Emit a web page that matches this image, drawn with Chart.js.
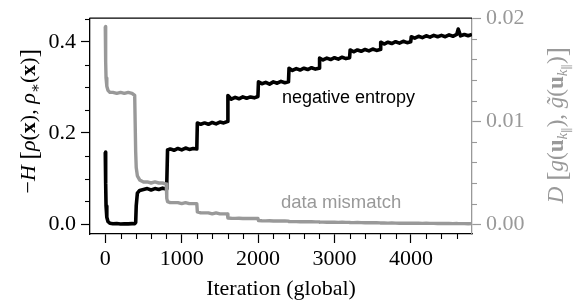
<!DOCTYPE html>
<html>
<head>
<meta charset="utf-8">
<script src="https://cdn.jsdelivr.net/npm/chart.js@4.4.1/dist/chart.umd.min.js"></script>
<style>
  html, body { margin: 0; padding: 0; background: #fff; }
  #wrap { width: 577px; height: 302px; }
</style>
</head>
<body>
<div id="wrap"><canvas id="c" width="577" height="302"></canvas></div>
<script>
// ---- data ----
const iterations = [
  0, 5, 10, 20, 35, 60, 100, 150, 200, 250, 300, 350, 385, 398,
  405, 420, 450, 500, 550, 600, 650, 700, 750, 798,
  805, 815, 850, 900, 950, 1000, 1050, 1100, 1150, 1198,
  1205, 1250, 1300, 1350, 1400, 1450, 1500, 1550, 1598,
  1605, 1650, 1700, 1750, 1800, 1850, 1900, 1950, 1998,
  2005, 2050, 2100, 2150, 2200, 2250, 2300, 2350, 2398,
  2405, 2450, 2500, 2550, 2600, 2650, 2700, 2750, 2798,
  2805, 2850, 2900, 2950, 3000, 3050, 3100, 3150, 3198,
  3205, 3250, 3300, 3350, 3400, 3450, 3500, 3550, 3598,
  3605, 3650, 3700, 3750, 3800, 3850, 3900, 3950, 3998,
  4005, 4050, 4100, 4150, 4200, 4250, 4300, 4350, 4400, 4450, 4500, 4550, 4600, 4620, 4650, 4700, 4750, 4800
];
const negativeEntropy = [
  0.158, 0.09, 0.04, 0.015, 0.006, 0.002, 0.001, 0.0015, 0.0005, 0.001, 0.0008, 0.0012, 0.001, 0.004,
  0.04, 0.068, 0.074, 0.076, 0.078, 0.075, 0.078, 0.076, 0.079, 0.077,
  0.09, 0.163, 0.165, 0.162, 0.166, 0.163, 0.167, 0.164, 0.166, 0.165,
  0.222, 0.219, 0.222, 0.219, 0.223, 0.220, 0.224, 0.222, 0.225,
  0.282, 0.274, 0.278, 0.275, 0.279, 0.276, 0.279, 0.277, 0.280,
  0.312, 0.308, 0.311, 0.307, 0.312, 0.309, 0.313, 0.310, 0.312,
  0.342, 0.337, 0.341, 0.338, 0.342, 0.339, 0.343, 0.340, 0.342,
  0.364, 0.360, 0.364, 0.361, 0.365, 0.362, 0.366, 0.363, 0.365,
  0.382, 0.378, 0.382, 0.379, 0.383, 0.380, 0.384, 0.381, 0.383,
  0.399, 0.395, 0.399, 0.396, 0.400, 0.397, 0.401, 0.398, 0.400,
  0.411, 0.408, 0.412, 0.409, 0.413, 0.410, 0.414, 0.411, 0.414, 0.411, 0.415, 0.412, 0.416, 0.428, 0.413, 0.416, 0.413, 0.416
];
const dataMismatch = [
  0.0192, 0.0158, 0.0142, 0.0134, 0.0130, 0.0128, 0.0128, 0.0127, 0.0128, 0.0127, 0.0128, 0.0127, 0.0125, 0.0070,
  0.0055, 0.0047, 0.0043, 0.0041, 0.0041, 0.0040, 0.0041, 0.0040, 0.0040, 0.0039,
  0.0025, 0.0022, 0.0021, 0.0021, 0.0021, 0.0020, 0.0021, 0.0020, 0.0020, 0.0020,
  0.0012, 0.0011, 0.0011, 0.0011, 0.0010, 0.0011, 0.0010, 0.0010, 0.0010,
  0.00060, 0.00058, 0.00057, 0.00058, 0.00056, 0.00057, 0.00056, 0.00056, 0.00055,
  0.00035, 0.00033, 0.00032, 0.00033, 0.00031, 0.00032, 0.00031, 0.00031, 0.00030,
  0.00026, 0.00025, 0.00025, 0.00024, 0.00025, 0.00024, 0.00024, 0.00023, 0.00023,
  0.00020, 0.00020, 0.00019, 0.00020, 0.00019, 0.00018, 0.00019, 0.00018, 0.00018,
  0.00016, 0.00015, 0.00016, 0.00015, 0.00014, 0.00015, 0.00014, 0.00014, 0.00013,
  0.00012, 0.00012, 0.00011, 0.00012, 0.00011, 0.00010, 0.00011, 0.00010, 0.00010,
  0.00009, 0.00010, 0.00009, 0.00008, 0.00009, 0.00008, 0.00008, 0.00007, 0.00008, 0.00007, 0.00007, 0.00006, 0.00007, 0.00006, 0.00006, 0.00006, 0.00005, 0.00006
];
const xTicks = [0, 1000, 2000, 3000, 4000];
const leftTicks = [0, 0.2, 0.4];
const rightTicks = [0, 0.01, 0.02];
const xMinorStep = 200, leftMinorStep = 0.05, rightMinorStep = 0.002;

// ---- styles ----
const GREY = '#999999';
const SERIF = "'Liberation Serif', 'DejaVu Serif', serif";
const SANS = "'Liberation Sans', Arial, sans-serif";

const blackPts = iterations.map((x, i) => ({ x, y: negativeEntropy[i] }));
const greyPts = iterations.map((x, i) => ({ x, y: dataMismatch[i] }));

function rich(ctx, parts, cx, cy, base, color) {
  ctx.save();
  ctx.translate(cx, cy);
  ctx.rotate(-Math.PI / 2);
  ctx.fillStyle = color;
  ctx.textBaseline = 'alphabetic';
  ctx.textAlign = 'left';
  let W = 0;
  const ws = parts.map(p => { ctx.font = p.f; const w = ctx.measureText(p.t).width; W += w; return w; });
  let x = -W / 2;
  parts.forEach((p, i) => { ctx.font = p.f; ctx.fillText(p.t, x, base + (p.dy || 0)); x += ws[i]; });
  ctx.restore();
}

const N = "22px " + SERIF, I = "italic 22px " + SERIF, B = "bold 22px " + SERIF;
const BR = "26px " + SERIF, SUB = "italic 15px " + SERIF, SUB2 = "12px " + SERIF;
const RN = "23px " + SERIF, RI = "italic 23px " + SERIF, RB = "bold 23px " + SERIF, RBR = "28px " + SERIF;

const decor = {
  id: 'decor',
  afterDraw(chart) {
    const ctx = chart.ctx, a = chart.chartArea;
    const sx = chart.scales.x, sl = chart.scales.y, sr = chart.scales.y1;
    ctx.save();
    // top spine
    ctx.strokeStyle = '#000'; ctx.lineWidth = 1.3;
    ctx.beginPath(); ctx.moveTo(a.left - 0.6, a.top); ctx.lineTo(a.right, a.top); ctx.stroke();
    // minor ticks
    ctx.lineWidth = 1.1;
    ctx.strokeStyle = '#000';
    for (let v = sx.min; v <= sx.max + 1e-9; v += xMinorStep) {
      if (xTicks.some(t => Math.abs(t - v) < 1e-6)) continue;
      const px = Math.round(sx.getPixelForValue(v)) + 0.5;
      if (px <= a.left + 1 || px >= a.right - 1) continue;
      ctx.beginPath(); ctx.moveTo(px, a.bottom); ctx.lineTo(px, a.bottom + 5); ctx.stroke();
    }
    for (let k = 1; k * leftMinorStep < sl.max; k++) {
      const v = k * leftMinorStep;
      if (leftTicks.some(t => Math.abs(t - v) < 1e-9)) continue;
      const py = Math.round(sl.getPixelForValue(v)) + 0.5;
      if (py <= a.top + 1) continue;
      ctx.beginPath(); ctx.moveTo(a.left, py); ctx.lineTo(a.left - 5, py); ctx.stroke();
    }
    ctx.strokeStyle = GREY;
    for (let k = 1; k * rightMinorStep < sr.max - 1e-9; k++) {
      const v = k * rightMinorStep;
      if (rightTicks.some(t => Math.abs(t - v) < 1e-9)) continue;
      const py = Math.round(sr.getPixelForValue(v)) + 0.5;
      ctx.beginPath(); ctx.moveTo(a.right, py); ctx.lineTo(a.right + 5, py); ctx.stroke();
    }
    // annotations
    ctx.textBaseline = 'alphabetic'; ctx.textAlign = 'left';
    ctx.font = "18px " + SANS; ctx.fillStyle = '#000';
    ctx.fillText('negative entropy', sx.getPixelForValue(2312), sl.getPixelForValue(0.2667));
    ctx.font = "18.5px " + SANS; ctx.fillStyle = GREY;
    ctx.fillText('data mismatch', sx.getPixelForValue(2299), sr.getPixelForValue(0.00162));
    ctx.restore();
    // axis titles (rotated, reading bottom to top)
    rich(ctx, [
      { t: '\u2212', f: N }, { t: 'H', f: I }, { t: ' ', f: N }, { t: '[', f: BR, dy: 2 },
      { t: '\u03C1', f: I }, { t: '(', f: N }, { t: 'x', f: B }, { t: '), ', f: N },
      { t: '\u03C1', f: I }, { t: '\u2217', f: SUB, dy: 5 }, { t: '(', f: N }, { t: 'x', f: B }, { t: ')', f: N },
      { t: ']', f: BR, dy: 2 }
    ], 28, (a.top + a.bottom) / 2 - 5, 7, '#000');
    rich(ctx, [
      { t: 'D', f: RI }, { t: ' ', f: RN }, { t: '[', f: RBR, dy: 3 },
      { t: 'g', f: RI }, { t: '(', f: RN }, { t: 'u', f: RB }, { t: 'k', f: SUB, dy: 4 }, { t: '\u2225', f: SUB2, dy: 8 }, { t: '), ', f: RN },
      { t: 'g\u0303', f: RI }, { t: '(', f: RN }, { t: 'u', f: RB }, { t: 'k', f: SUB, dy: 4 }, { t: '\u2225', f: SUB2, dy: 8 }, { t: ')', f: RN },
      { t: ']', f: RBR, dy: 3 }
    ], 556, (a.top + a.bottom) / 2 - 1, 7, GREY);
  }
};

new Chart(document.getElementById('c'), {
  type: 'line',
  data: {
    datasets: [
      { data: greyPts, yAxisID: 'y1', borderColor: GREY, borderWidth: 3.4, pointRadius: 0, tension: 0, borderJoinStyle: 'round' },
      { data: blackPts, yAxisID: 'y', borderColor: '#000', borderWidth: 3.6, pointRadius: 0, tension: 0, borderJoinStyle: 'round' }
    ]
  },
  options: {
    responsive: false,
    animation: false,
    devicePixelRatio: 1,
    layout: { padding: { top: 14, left: 0, right: 0, bottom: 0 } },
    plugins: { legend: { display: false }, tooltip: { enabled: false } },
    scales: {
      x: {
        type: 'linear', position: 'bottom', min: -200, max: 4800,
        afterBuildTicks: s => { s.ticks = xTicks.map(v => ({ value: v })); },
        afterFit: s => { s.height = 68; },
        ticks: { font: { family: SERIF, size: 22 }, color: '#000', padding: 3, maxRotation: 0, autoSkip: false, callback: v => String(v) },
        grid: { drawOnChartArea: false, tickLength: 9, tickColor: '#000', tickWidth: 1.2 },
        border: { color: '#000', width: 1.3 },
        title: { display: true, text: 'Iteration (global)', font: { family: SERIF, size: 22 }, color: '#000', padding: 0 }
      },
      y: {
        position: 'left', min: -0.0215, max: 0.4516,
        afterBuildTicks: s => { s.ticks = leftTicks.map(v => ({ value: v })); },
        afterFit: s => { s.width = 90; },
        ticks: { font: { family: SERIF, size: 22 }, color: '#000', padding: 5, callback: v => v.toFixed(1) },
        grid: { drawOnChartArea: false, tickLength: 9, tickColor: '#000', tickWidth: 1.2 },
        border: { color: '#000', width: 1.3 }
      },
      y1: {
        position: 'right', min: -0.00095, max: 0.02,
        afterBuildTicks: s => { s.ticks = rightTicks.map(v => ({ value: v })); },
        afterFit: s => { s.width = 105; },
        ticks: { font: { family: SERIF, size: 22 }, color: GREY, padding: 5, callback: v => v.toFixed(2) },
        grid: { drawOnChartArea: false, tickLength: 9, tickColor: GREY, tickWidth: 1.2 },
        border: { color: GREY, width: 1.3 }
      }
    }
  },
  plugins: [decor]
});
</script>
</body>
</html>
